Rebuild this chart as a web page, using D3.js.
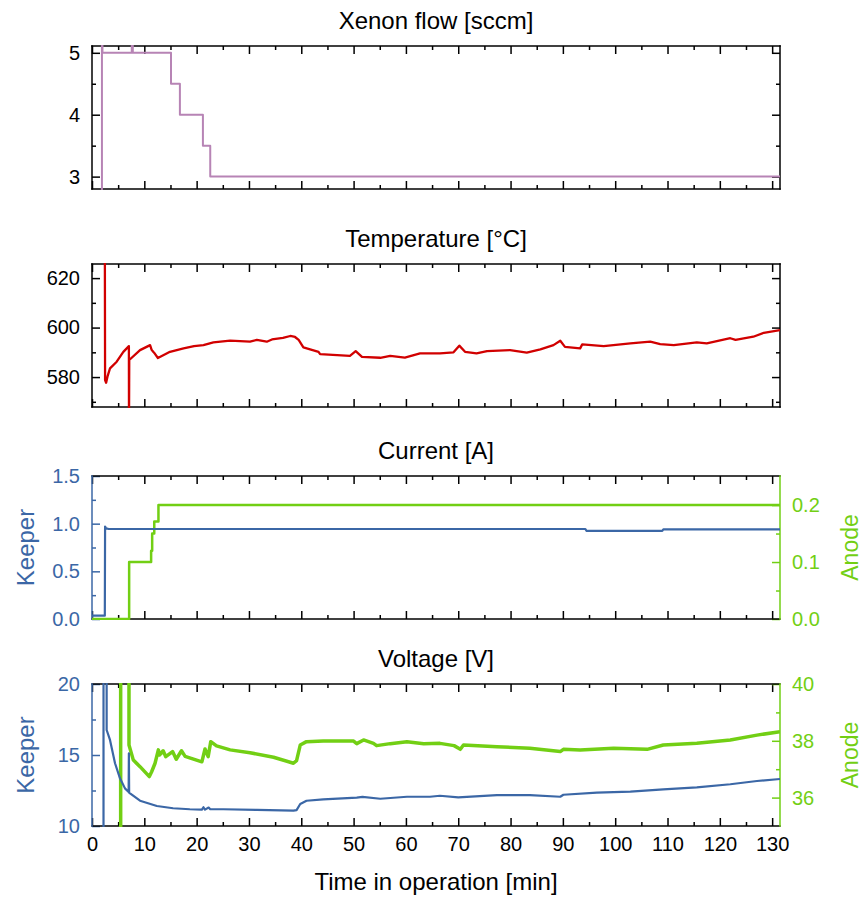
<!DOCTYPE html>
<html>
<head>
<meta charset="utf-8">
<script src="https://cdn.jsdelivr.net/npm/d3@7"></script>
<style>
  body { margin: 0; background: #fff; }
  svg text { font-family: "Liberation Sans", Arial, Helvetica, sans-serif; }
</style>
</head>
<body>
<div id="chart"></div>
<script>
// time axis ticks [min]
const timeMajor = [0, 10, 20, 30, 40, 50, 60, 70, 80, 90, 100, 110, 120, 130];
const timeMinor = [5, 15, 25, 35, 45, 55, 65, 75, 85, 95, 105, 115, 125];

// [time min, value]
const xenonFlow = [[1.9, 2.6], [1.9, 5.15], [2.0, 5.15], [2.0, 5.0], [7.6, 5.0], [7.6, 5.12], [7.8, 5.12],
  [7.8, 5.0], [15.1, 5.0], [15.1, 4.5], [16.8, 4.5], [16.8, 4.0], [21.2, 4.0], [21.2, 3.5], [22.6, 3.5],
  [22.6, 3.0], [131.5, 3.0]];

const temperature = [[2.45, 640], [2.5, 578.8], [2.7, 577.7], [3.0, 580.5], [3.44, 583.5], [4.72, 586.2],
  [5.99, 590.2], [7.05, 592.5], [7.07, 560], [7.12, 586.9], [9.18, 590.9], [11.1, 592.9], [11.4, 591],
  [11.7, 590.2], [12.0, 589.5], [12.6, 587.7], [14.9, 590.2], [17.5, 591.6], [19.5, 592.5], [21.3, 592.9],
  [23.2, 594], [26.4, 594.7], [30.2, 594.3], [31.5, 595], [33.4, 594.3], [34.4, 595.2], [36.5, 595.8],
  [37.9, 596.6], [38.8, 596.2], [39.5, 595], [40.4, 592], [43.3, 590.2], [43.6, 589.3], [49.3, 588.6],
  [50.4, 590.5], [51.6, 588.2], [55.1, 587.8], [57, 588.6], [59.8, 587.9], [62.7, 589.6], [66.5, 589.6],
  [69.1, 590], [70.2, 592.7], [71.3, 590.2], [73.5, 589.6], [75.5, 590.5], [79.9, 590.9], [83.1, 589.9],
  [85.7, 591.2], [88.2, 592.9], [89.5, 594.7], [90.4, 592.2], [93.3, 591.6], [93.7, 593.2], [97.8, 592.5],
  [102.9, 593.6], [106.7, 594.3], [108.6, 593.3], [111.2, 592.9], [115.6, 594], [117.5, 593.6], [122, 595.7],
  [123, 595], [126.4, 596.3], [128.4, 597.9], [131.5, 599]];

const keeperCurrent = [[0, 0.035], [2.45, 0.035], [2.5, 0.97], [2.7, 0.95], [3.2, 0.944], [94.3, 0.944],
  [94.5, 0.925], [109, 0.925], [109.2, 0.94], [131.5, 0.94]];

const anodeCurrent = [[0, 0], [7.1, 0], [7.1, 0.1], [11.3, 0.1], [11.3, 0.12], [11.5, 0.12], [11.5, 0.15],
  [11.9, 0.15], [11.9, 0.171], [12.7, 0.171], [12.7, 0.2], [131.5, 0.2]];

const keeperVoltage = [[2.2, 5], [2.2, 26], [2.8, 26], [2.8, 16.76], [3.44, 16.06], [4.4, 14.42], [5.35, 13.36],
  [6.3, 12.65], [7.0, 12.4], [7.05, 15.12], [7.1, 12.35], [7.27, 12.3], [9.18, 11.78], [12.4, 11.41],
  [15.5, 11.25], [18.7, 11.18], [21.0, 11.15], [21.3, 11.32], [21.6, 11.15], [22.3, 11.3], [22.6, 11.18],
  [25.1, 11.18], [31.5, 11.13], [38.5, 11.08], [39.1, 11.12], [39.8, 11.55], [41, 11.78], [44.2, 11.88],
  [50.6, 12.0], [51.7, 12.05], [55.1, 11.92], [60.2, 12.06], [64.6, 12.06], [66.5, 12.13], [70, 12.02],
  [77.4, 12.18], [83.7, 12.18], [89.5, 12.06], [90.1, 12.2], [96.5, 12.35], [102.9, 12.42], [109.2, 12.58],
  [115.6, 12.72], [122, 12.94], [127.1, 13.17], [131.5, 13.31]];

const anodeVoltage = [[5.48, 30], [5.48, 45], [7.07, 45], [7.07, 37.85], [7.9, 37.32], [9.18, 37.09],
  [10.96, 36.74], [11.4, 36.91], [12.05, 37.21], [12.68, 37.68], [12.9, 37.5], [13.6, 37.65], [14.1, 37.44],
  [15.4, 37.62], [16.1, 37.35], [17.1, 37.65], [17.8, 37.45], [21, 37.26], [21.6, 37.71], [22.2, 37.44],
  [22.7, 37.97], [23.8, 37.82], [26.4, 37.68], [30.2, 37.58], [34.7, 37.42], [38.5, 37.21], [39.1, 37.3],
  [39.8, 37.85], [41, 37.97], [44.2, 37.99], [50, 37.99], [50.6, 37.9], [51.9, 38.03], [53.8, 37.91],
  [54.4, 37.83], [57, 37.9], [60.2, 37.97], [63.4, 37.9], [66.5, 37.91], [69.2, 37.83], [70.4, 37.7],
  [71, 37.85], [77.4, 37.79], [83.7, 37.74], [89.5, 37.62], [90.1, 37.7], [93.3, 37.68], [99.7, 37.74],
  [106.1, 37.7], [109.2, 37.85], [115.6, 37.91], [122, 38.03], [127.1, 38.2], [131.5, 38.32]];

const W = 864, H = 897;
const left = 92, right = 780;
const purple = "#b784b5", red = "#d10000", blue = "#3b67a6", green = "#72cf14";

const svg = d3.select("#chart").append("svg")
  .attr("width", W).attr("height", H);

const x = d3.scaleLinear().domain([0, 131.5]).range([left, right]);

let clipId = 0;

function drawTicks(g, axis, values, size, color, labels, fmt, pad) {
  g.call(axis.tickValues(values).tickSize(-size).tickPadding(pad || 11)
      .tickFormat(labels ? fmt : ""))
    .call(a => a.select(".domain").remove())
    .call(a => a.selectAll(".tick line").attr("stroke", color).attr("stroke-width", 1.5))
    .call(a => a.selectAll(".tick text").attr("fill", color).attr("font-size", 20));
}

function buildPanel(cfg) {
  const g = svg.append("g");
  const y = d3.scaleLinear().domain(cfg.yDomain).range([cfg.bottom, cfg.top]);
  const y2 = cfg.y2Domain ? d3.scaleLinear().domain(cfg.y2Domain).range([cfg.bottom, cfg.top]) : null;
  const leftColor = cfg.leftColor || "#000";
  const rightColor = cfg.rightColor || "#000";

  // title
  g.append("text")
    .attr("x", (left + right) / 2).attr("y", cfg.top - 17)
    .attr("text-anchor", "middle").attr("font-size", 24)
    .text(cfg.title);

  // x ticks, top and bottom, pointing inward
  drawTicks(g.append("g").attr("transform", `translate(0,${cfg.bottom})`),
    d3.axisBottom(x), timeMajor, 8, "#000", cfg.xLabels, d3.format("d"));
  drawTicks(g.append("g").attr("transform", `translate(0,${cfg.bottom})`),
    d3.axisBottom(x), timeMinor, 4, "#000", false);
  drawTicks(g.append("g").attr("transform", `translate(0,${cfg.top})`),
    d3.axisTop(x), timeMajor, 8, "#000", false);
  drawTicks(g.append("g").attr("transform", `translate(0,${cfg.top})`),
    d3.axisTop(x), timeMinor, 4, "#000", false);

  // left y ticks
  drawTicks(g.append("g").attr("transform", `translate(${left},0)`),
    d3.axisLeft(y), cfg.yMajor, 8, leftColor, true, cfg.yFormat, 12);
  drawTicks(g.append("g").attr("transform", `translate(${left},0)`),
    d3.axisLeft(y), cfg.yMinor, 4, leftColor, false);

  // right y ticks: second scale or mirror
  const ry = y2 || y;
  drawTicks(g.append("g").attr("transform", `translate(${right},0)`),
    d3.axisRight(ry), y2 ? cfg.y2Major : cfg.yMajor, 8, rightColor, !!y2, cfg.y2Format, 12);
  drawTicks(g.append("g").attr("transform", `translate(${right},0)`),
    d3.axisRight(ry), y2 ? cfg.y2Minor : cfg.yMinor, 4, rightColor, false);

  // frame
  const frame = [
    [left, cfg.top, right, cfg.top, "#000"],
    [left, cfg.bottom, right, cfg.bottom, "#000"],
    [left, cfg.top, left, cfg.bottom, leftColor],
    [right, cfg.top, right, cfg.bottom, rightColor]
  ];
  g.selectAll(".frame").data(frame).enter().append("line")
    .attr("x1", d => d[0]).attr("y1", d => d[1])
    .attr("x2", d => d[2]).attr("y2", d => d[3])
    .attr("stroke", d => d[4]).attr("stroke-width", 1.5)
    .attr("stroke-linecap", "square");

  // clip for data
  const id = "clip" + (clipId++);
  svg.append("clipPath").attr("id", id).append("rect")
    .attr("x", left).attr("y", cfg.top - 1)
    .attr("width", right - left).attr("height", cfg.bottom - cfg.top + 2);

  const plot = g.append("g").attr("clip-path", `url(#${id})`);
  cfg.series.forEach(s => {
    const sc = s.axis === 2 ? y2 : y;
    plot.append("path")
      .datum(s.data)
      .attr("fill", "none")
      .attr("stroke", s.color)
      .attr("stroke-width", s.width)
      .attr("stroke-linejoin", "round")
      .attr("d", d3.line().x(d => x(d[0])).y(d => sc(d[1])));
  });

  // side labels
  if (cfg.leftLabel) {
    g.append("text")
      .attr("transform", `translate(25,${(cfg.top + cfg.bottom) / 2}) rotate(-90)`)
      .attr("text-anchor", "middle").attr("dominant-baseline", "central")
      .attr("font-size", 24).attr("fill", leftColor)
      .text(cfg.leftLabel);
  }
  if (cfg.rightLabel) {
    g.append("text")
      .attr("transform", `translate(850,${(cfg.top + cfg.bottom) / 2}) rotate(-90)`)
      .attr("text-anchor", "middle").attr("dominant-baseline", "central")
      .attr("font-size", 23).attr("fill", rightColor)
      .text(cfg.rightLabel);
  }
}

buildPanel({
  title: "Xenon flow [sccm]", top: 46, bottom: 189,
  yDomain: [2.8, 5.11], yMajor: [3, 4, 5], yMinor: [3.5, 4.5], yFormat: d3.format("d"),
  series: [{ data: xenonFlow, color: purple, width: 2 }]
});

buildPanel({
  title: "Temperature [°C]", top: 264, bottom: 407,
  yDomain: [567.9, 625.7], yMajor: [580, 600, 620], yMinor: [570, 590, 610], yFormat: d3.format("d"),
  series: [{ data: temperature, color: red, width: 2.3 }]
});

buildPanel({
  title: "Current [A]", top: 476, bottom: 619,
  yDomain: [0, 1.5], yMajor: [0, 0.5, 1.0, 1.5], yMinor: [0.25, 0.75, 1.25], yFormat: d3.format(".1f"),
  y2Domain: [0, 0.251], y2Major: [0, 0.1, 0.2], y2Minor: [0.05, 0.15], y2Format: d3.format(".1f"),
  leftColor: blue, rightColor: green, leftLabel: "Keeper", rightLabel: "Anode",
  series: [
    { data: anodeCurrent, color: green, width: 2.5, axis: 2 },
    { data: keeperCurrent, color: blue, width: 2.2 }
  ]
});

buildPanel({
  title: "Voltage [V]", top: 684, bottom: 826, xLabels: true,
  yDomain: [10, 20], yMajor: [10, 15, 20], yMinor: [12.5, 17.5], yFormat: d3.format("d"),
  y2Domain: [35, 40], y2Major: [36, 38, 40], y2Minor: [37, 39], y2Format: d3.format("d"),
  leftColor: blue, rightColor: green, leftLabel: "Keeper", rightLabel: "Anode",
  series: [
    { data: anodeVoltage, color: green, width: 3.5, axis: 2 },
    { data: keeperVoltage, color: blue, width: 2.2 }
  ]
});

svg.append("text")
  .attr("x", (left + right) / 2).attr("y", 890)
  .attr("text-anchor", "middle").attr("font-size", 24)
  .text("Time in operation [min]");
</script>
</body>
</html>
